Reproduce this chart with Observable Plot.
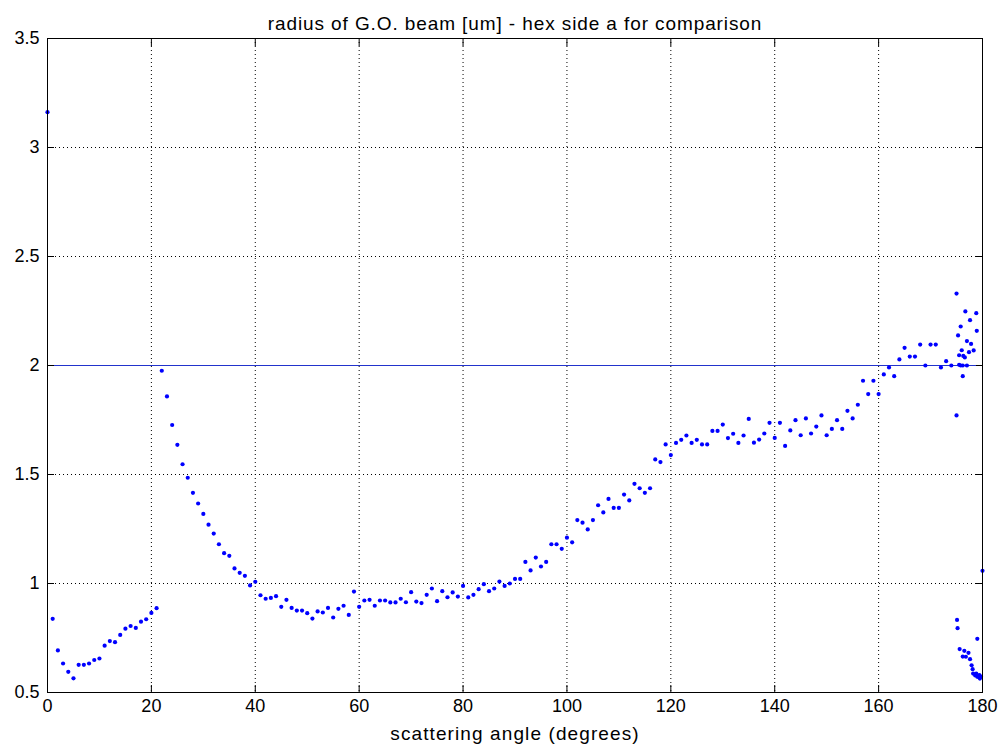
<!DOCTYPE html>
<html>
<head>
<meta charset="utf-8">
<script src="https://cdn.jsdelivr.net/npm/d3@7"></script>
<script src="https://cdn.jsdelivr.net/npm/@observablehq/plot@0.6"></script>
<style>
  html, body { margin: 0; padding: 0; background: #fff; }
  svg { display: block; }
</style>
</head>
<body>
<div id="chart"></div>
<script>
// Main series: one point per degree, 0..174
const mainValues = [
  3.162, 0.838, 0.693, 0.633, 0.595, 0.565, 0.627, 0.627, 0.633, 0.649,
  0.656, 0.715, 0.736, 0.731, 0.764, 0.793, 0.805, 0.796, 0.825, 0.836,
  0.865, 0.887, 1.976, 1.858, 1.727, 1.636, 1.547, 1.485, 1.416, 1.367,
  1.319, 1.270, 1.229, 1.180, 1.139, 1.127, 1.069, 1.049, 1.035, 0.991,
  1.008, 0.946, 0.930, 0.934, 0.942, 0.893, 0.925, 0.888, 0.876, 0.876,
  0.864, 0.839, 0.872, 0.867, 0.888, 0.844, 0.884, 0.898, 0.856, 0.963,
  0.893, 0.922, 0.925, 0.898, 0.922, 0.922, 0.913, 0.913, 0.930, 0.914,
  0.960, 0.917, 0.910, 0.948, 0.977, 0.919, 0.965, 0.937, 0.959, 0.940,
  0.989, 0.936, 0.948, 0.974, 0.997, 0.965, 0.977, 1.009, 0.989, 1.000,
  1.021, 1.021, 1.099, 1.060, 1.119, 1.078, 1.099, 1.180, 1.180, 1.159,
  1.210, 1.189, 1.291, 1.279, 1.248, 1.291, 1.359, 1.326, 1.388, 1.347,
  1.347, 1.408, 1.381, 1.457, 1.437, 1.416, 1.437, 1.569, 1.557, 1.638,
  1.589, 1.645, 1.659, 1.679, 1.645, 1.659, 1.638, 1.638, 1.700, 1.700,
  1.729, 1.667, 1.687, 1.645, 1.679, 1.755, 1.646, 1.660, 1.688, 1.737,
  1.668, 1.737, 1.631, 1.702, 1.749, 1.680, 1.757, 1.688, 1.720, 1.771,
  1.680, 1.709, 1.749, 1.709, 1.792, 1.757, 1.820, 1.930, 1.869, 1.930,
  1.869, 1.959, 1.991, 1.951, 2.028, 2.081, 2.041, 2.041, 2.096, 2.000,
  2.096, 2.096, 1.991, 2.020, 2.000
];
const mainStartAngle = 0;

// Dense tail near backscattering (175..180 degrees)
const tailAngles = [
  175.0, 175.0, 175.1, 175.2, 175.3, 175.5, 175.5, 175.6, 175.8, 175.8,
  176.0, 176.2, 176.2, 176.2, 176.3, 176.5, 176.6, 176.7, 176.8, 177.0,
  177.0, 177.3, 177.4, 177.6, 177.6, 177.8, 177.9, 178.1, 178.2, 178.3,
  178.6, 178.8, 178.8, 178.9, 179.0, 179.0, 179.4, 179.5, 179.7, 180.0
];
const tailValues = [
  2.330, 1.771, 0.833, 0.795, 2.138, 2.003, 2.047, 0.699, 2.179, 2.000,
  2.070, 1.951, 2.000, 0.665, 2.044, 0.691, 2.037, 2.248, 0.664, 2.112,
  2.000, 0.682, 2.061, 2.208, 0.653, 2.099, 0.625, 0.607, 0.587, 2.069,
  0.578, 2.240, 0.587, 2.159, 0.746, 0.572, 0.580, 0.564, 0.573, 1.058
];

const hexSide = 2;          // reference line: hex side a
const xTicks = [0, 20, 40, 60, 80, 100, 120, 140, 160, 180];
const yTicks = [0.5, 1, 1.5, 2, 2.5, 3, 3.5];
const titleText = "radius of G.O. beam [um] - hex side a for comparison";
const xLabel = "scattering angle (degrees)";

const points = mainValues.map((v, i) => ({angle: mainStartAngle + i, r: v}))
  .concat(tailAngles.map((a, i) => ({angle: a, r: tailValues[i]})));

const font = "Arial, 'Liberation Sans', sans-serif";

const chart = Plot.plot({
  width: 1000,
  height: 744,
  marginLeft: 47,
  marginRight: 18,
  marginTop: 38,
  marginBottom: 52,
  style: {fontFamily: font, fontSize: "18px", color: "#000", background: "#fff"},
  x: {domain: [0, 180], ticks: xTicks},
  y: {domain: [0.5, 3.5], ticks: yTicks},
  marks: [
    Plot.gridX(xTicks, {stroke: "#000", strokeOpacity: 1, strokeDasharray: "1,3"}),
    Plot.gridY(yTicks, {stroke: "#000", strokeOpacity: 1, strokeDasharray: "1,3"}),
    Plot.ruleY([hexSide], {stroke: "#2233cc", strokeWidth: 1.1}),
    Plot.dot(points, {x: "angle", y: "r", r: 2.1, fill: "#0000ff", stroke: "none"}),
    Plot.axisX(xTicks, {anchor: "bottom", tickSize: 0, tickPadding: 7, fontSize: 18, label: xLabel, labelAnchor: "center", labelArrow: "none", labelOffset: 47}),
    Plot.axisY(yTicks, {anchor: "left", tickSize: 0, tickPadding: 8, fontSize: 18, label: null, tickFormat: d => String(d)}),
    Plot.axisX(xTicks, {anchor: "bottom", tickSize: -7, text: null, label: null}),
    Plot.axisX(xTicks, {anchor: "top", tickSize: -7, text: null, label: null}),
    Plot.axisY(yTicks, {anchor: "left", tickSize: -7, text: null, label: null}),
    Plot.axisY(yTicks, {anchor: "right", tickSize: -7, text: null, label: null}),
    Plot.frame({stroke: "#000", strokeWidth: 1}),
    Plot.text([titleText], {frameAnchor: "top", dy: -22, fontSize: 19, fill: "#000"})
  ]
});

// wider letter spacing for the title and axis label, like the reference rendering
d3.select(chart).selectAll("g[aria-label='text'] text").attr("letter-spacing", "0.9px");
d3.select(chart).selectAll("g[aria-label='x-axis label'] text").attr("letter-spacing", "1.1px").attr("font-size", 19);

document.getElementById("chart").appendChild(chart);
</script>
</body>
</html>
